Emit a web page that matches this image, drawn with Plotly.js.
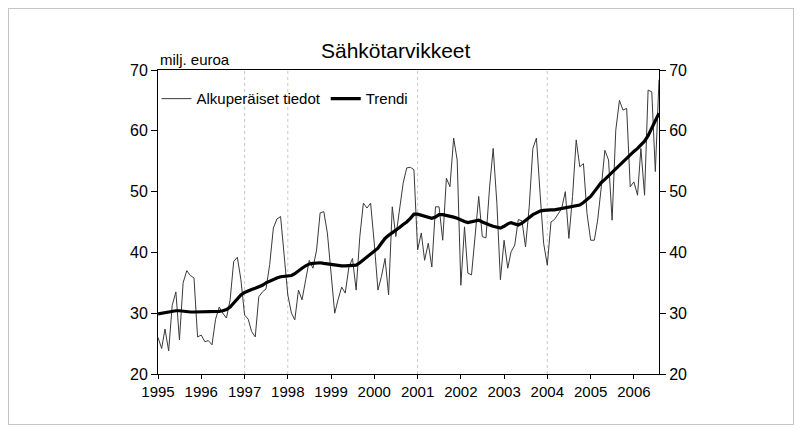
<!DOCTYPE html>
<html>
<head>
<meta charset="utf-8">
<script src="https://cdn.plot.ly/plotly-3.0.1.min.js"></script>
<style>
  html, body { margin: 0; padding: 0; background: #fff; }
  #wrap { position: relative; width: 801px; height: 432px; }
  #chart { width: 801px; height: 432px; }
  #frame { position: absolute; left: 8px; top: 8px; width: 784px; height: 415px;
           border: 1px solid #c4c4c4; pointer-events: none; }
</style>
</head>
<body>
<div id="wrap"><div id="chart"></div><div id="frame"></div></div>
<script>
// Monthly data Jan 1995 – Aug 2006 (million euro)
const startYear = 1995;
const original = [
  26.0, 24.2, 27.4, 23.8, 31.3, 33.5, 25.6, 35.0, 37.0, 36.2, 35.8, 26.1,   // 1995
  26.4, 25.3, 25.5, 24.8, 29.0, 31.0, 30.0, 29.2, 32.2, 38.5, 39.2, 35.5,   // 1996
  29.7, 29.0, 27.0, 26.1, 32.7, 33.5, 34.0, 38.0, 44.0, 45.5, 45.9, 40.0,   // 1997
  33.0, 30.0, 28.9, 33.8, 32.2, 35.5, 38.7, 37.4, 40.4, 46.5, 46.7, 43.2,   // 1998
  36.6, 30.0, 32.2, 34.3, 33.3, 37.6, 39.0, 33.8, 42.6, 48.1, 47.3, 48.1,   // 1999
  41.5, 33.8, 36.0, 39.0, 33.0, 47.5, 42.6, 47.0, 51.4, 53.9, 54.0, 53.6,   // 2000
  40.4, 43.2, 38.7, 41.5, 37.6, 47.5, 47.5, 42.0, 52.2, 50.8, 58.8, 55.2,   // 2001
  34.6, 44.2, 36.6, 36.3, 43.0, 49.2, 42.6, 42.4, 50.8, 57.1, 48.1, 35.5,   // 2002
  42.0, 37.4, 40.1, 41.2, 45.4, 45.2, 40.9, 47.5, 57.1, 58.8, 49.7, 41.5,   // 2003
  37.9, 45.0, 45.4, 46.3, 47.2, 50.0, 42.3, 49.2, 58.5, 54.1, 54.6, 46.4,   // 2004
  42.0, 42.0, 45.3, 50.8, 56.8, 55.2, 45.3, 60.1, 65.0, 63.4, 63.7, 50.8,   // 2005
  51.6, 49.4, 57.1, 49.4, 66.7, 66.4, 53.3, 68.4                            // 2006
];
const trend = [
  29.9, 30.0, 30.1, 30.3, 30.4, 30.4, 30.4, 30.3, 30.3, 30.2, 30.2, 30.2,
  30.2, 30.2, 30.2, 30.2, 30.2, 30.3, 30.4, 30.6, 31.0, 31.6, 32.3, 33.0,
  33.4, 33.7, 33.9, 34.1, 34.3, 34.6, 35.0, 35.3, 35.6, 35.8, 36.0, 36.1,
  36.2, 36.2, 36.5, 37.0, 37.4, 37.8, 38.1, 38.2, 38.3, 38.3, 38.2, 38.1,
  38.0, 37.9, 37.8, 37.8, 37.8, 37.8, 37.8, 37.9, 38.3, 38.8, 39.3, 39.8,
  40.3, 40.7, 41.5, 42.3, 42.8, 43.2, 43.7, 44.1, 44.6, 45.0, 45.6, 46.3,
  46.3, 46.1, 45.9, 45.7, 45.6, 45.8, 46.2, 46.2, 46.1, 46.0, 45.8, 45.6,
  45.3, 45.1, 44.9, 45.0, 45.2, 45.3, 45.0, 44.7, 44.5, 44.3, 44.1, 44.0,
  44.3, 44.7, 44.9, 44.7, 44.5, 44.8, 45.3, 45.8, 46.2, 46.5, 46.8, 46.9,
  47.0, 47.0, 47.0, 47.1, 47.2, 47.3, 47.5, 47.6, 47.7, 47.8, 48.2, 48.7,
  49.2, 50.0, 50.8, 51.5, 52.0, 52.6, 53.2, 53.7, 54.3, 54.9, 55.5, 56.0,
  56.6, 57.1, 57.6, 58.3, 59.2, 60.4, 61.7, 62.9
];
const tickYears = ['1995','1996','1997','1998','1999','2000','2001','2002','2003','2004','2005','2006'];
const gridYears = ['1997','1998','2001','2004'];
const seriesNames = ['Alkuperäiset tiedot', 'Trendi'];

const months = original.map((_, i) => {
  const y = startYear + Math.floor(i / 12);
  const m = (i % 12) + 1;
  return y + '-' + (m < 10 ? '0' + m : m) + '-01';
});

const font = 'Liberation Sans, Arial, sans-serif';

const traces = [
  { x: months, y: original, name: seriesNames[0], type: 'scatter', mode: 'lines',
    line: { color: '#3a3a3a', width: 1 } },
  { x: months, y: trend, name: seriesNames[1], type: 'scatter', mode: 'lines',
    line: { color: '#000', width: 3.2 } },
  { x: [months[0]], y: [null], yaxis: 'y2', showlegend: false, hoverinfo: 'skip',
    type: 'scatter', mode: 'lines' }
];

const shapes = gridYears.map(y => ({
  type: 'line', xref: 'x', yref: 'paper', x0: y + '-01-01', x1: y + '-01-01', y0: 0, y1: 1,
  line: { color: '#c8c8c8', width: 1, dash: 'dot' }, layer: 'below'
}));

const layout = {
  width: 801, height: 432,
  margin: { l: 158, r: 142, t: 70, b: 58 },
  paper_bgcolor: '#fff', plot_bgcolor: '#fff',
  font: { family: font, size: 15, color: '#000' },
  title: { text: 'Sähkötarvikkeet', font: { family: font, size: 21, color: '#000' },
           x: 0.494, xref: 'container', xanchor: 'center', y: 0.882, yref: 'container', yanchor: 'middle' },
  showlegend: true,
  legend: { orientation: 'h', x: -0.003, xanchor: 'left', y: 0.905, yanchor: 'middle',
            bgcolor: 'rgba(0,0,0,0)', font: { family: font, size: 15, color: '#000' },
            itemwidth: 30, tracegroupgap: 0 },
  xaxis: {
    type: 'date', range: [months[0], months[months.length - 1]],
    tickvals: tickYears.map(y => y + '-01-01'), ticktext: tickYears,
    showgrid: false, zeroline: false,
    showline: true, linecolor: '#000', linewidth: 1, mirror: true,
    ticks: 'outside', ticklen: 4, tickcolor: '#000',
    tickfont: { family: font, size: 15, color: '#000' }
  },
  yaxis: {
    range: [20, 70], tickvals: [20, 30, 40, 50, 60, 70],
    showgrid: false, zeroline: false, showline: true, linecolor: '#000', linewidth: 1,
    ticks: 'outside', ticklen: 6, tickcolor: '#000',
    tickfont: { family: font, size: 16, color: '#000' }
  },
  yaxis2: {
    overlaying: 'y', side: 'right', range: [20, 70], tickvals: [20, 30, 40, 50, 60, 70],
    showgrid: false, zeroline: false, showline: true, linecolor: '#000', linewidth: 1,
    ticks: 'outside', ticklen: 6, tickcolor: '#000',
    tickfont: { family: font, size: 16, color: '#000' }
  },
  shapes: shapes,
  annotations: [
    { text: 'milj. euroa', xref: 'paper', yref: 'paper', x: 0, y: 1.036,
      xanchor: 'left', yanchor: 'middle', showarrow: false,
      font: { family: font, size: 15, color: '#000' } }
  ]
};

Plotly.newPlot('chart', traces, layout, { displayModeBar: false, staticPlot: true });
</script>
</body>
</html>
